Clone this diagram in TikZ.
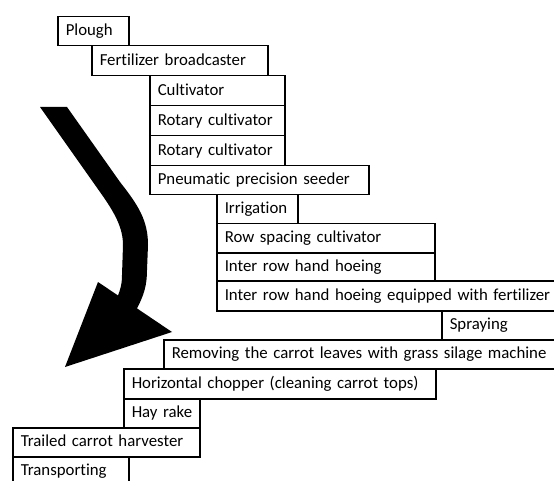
\documentclass[tikz,border=0pt]{standalone}
\usepackage{fontspec}
\setmainfont{Carlito}[Ligatures={NoCommon}]
\begin{document}
\begin{tikzpicture}[x=1pt,y=-1pt,
  stagebox/.style={draw=black, line width=1.5pt, fill=white, anchor=north west,
    inner xsep=8pt, inner ysep=0pt, align=left, text height=13pt, text depth=4pt,
    font=\fontsize{16.8}{20}\selectfont},
  bigarrow/.style={fill=black, draw=none}]
\useasboundingbox (0,0) rectangle (554,481);
\clip (0,0) rectangle (554,481);
\fill[white] (0,0) rectangle (554,481);
% curved arrow
\path[bigarrow] (40,107) -- (67,107) -- (120,182)
  .. controls (138,205) and (148,220) .. (148,245) -- (147,270)
  .. controls (147,285) and (144,295) .. (137,308.4) -- (172,332) -- (65,367) -- (98,282)
  -- (118,295.5) .. controls (120,290) and (122,285) .. (122,275) -- (123,245)
  .. controls (123,228) and (115,213) .. (100,192) -- cycle;
% boxes
\node[stagebox, minimum height=29pt, text width=55pt] (b1) at (57,16) {\mbox{Plough}};
\node[stagebox, minimum height=30pt, text width=160pt] (b2) at (91,45) {\mbox{Fertilizer broadcaster}};
\node[stagebox, minimum height=30pt, text width=119pt] (b3) at (149,75) {\mbox{Cultivator}};
\node[stagebox, minimum height=30pt, text width=119pt] (b4) at (149,105) {\mbox{Rotary cultivator}};
\node[stagebox, minimum height=30pt, text width=119pt] (b5) at (149,135) {\mbox{Rotary cultivator}};
\node[stagebox, minimum height=29pt, text width=203pt] (b6) at (149,165) {\mbox{Pneumatic precision seeder}};
\node[stagebox, minimum height=29pt, text width=65pt] (b7) at (216,194) {\mbox{Irrigation}};
\node[stagebox, minimum height=29pt, text width=202pt] (b8) at (216,223) {\mbox{Row spacing cultivator}};
\node[stagebox, minimum height=28pt, text width=202pt] (b9) at (216,252) {\mbox{Inter row hand hoeing}};
\node[stagebox, minimum height=30pt, text width=330pt] (b10) at (216,280) {\mbox{Inter row hand hoeing equipped with fertilizer}};
\node[stagebox, minimum height=29pt, text width=110pt] (b11) at (441,310) {\mbox{Spraying}};
\node[stagebox, minimum height=29pt, text width=390pt] (b12) at (163,339) {\mbox{Removing the carrot leaves with grass silage machine}};
\node[stagebox, minimum height=30pt, text width=296pt] (b13) at (123,368) {\mbox{Horizontal chopper (cleaning carrot tops)}};
\node[stagebox, minimum height=29pt, text width=60pt] (b14) at (123,398) {\mbox{Hay rake}};
\node[stagebox, minimum height=29pt, text width=171pt] (b15) at (12,427) {\mbox{Trailed carrot harvester}};
\node[stagebox, minimum height=34pt, text width=100pt, text height=12pt, text depth=8pt] (b16) at (12,456) {\mbox{Transporting}};
\end{tikzpicture}
\end{document}
